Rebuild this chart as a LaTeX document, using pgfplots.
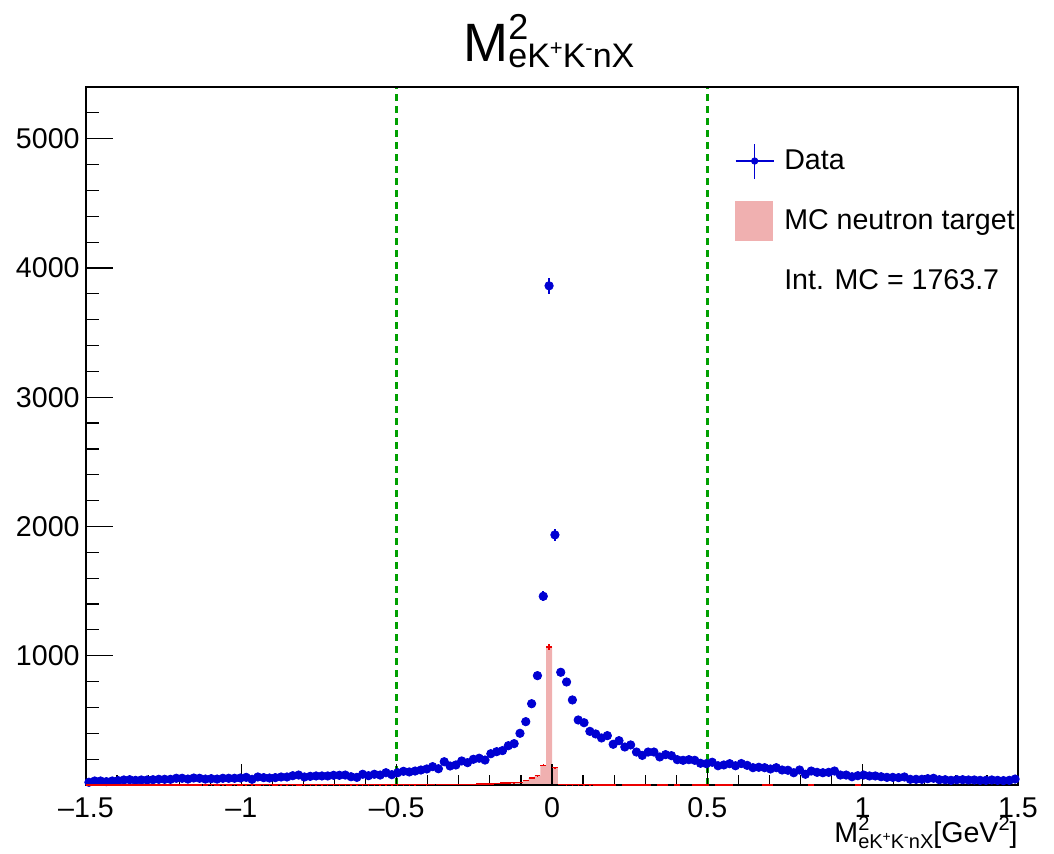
\documentclass[border=0pt]{standalone}
\usepackage{fontspec}
\setmainfont{Liberation Sans}
\usepackage{pgfplots}
\usepackage{pgfplotstable}
\pgfplotsset{compat=1.18}
\definecolor{datablue}{RGB}{0,0,210}
\definecolor{mcpink}{RGB}{240,176,176}
\definecolor{mcred}{RGB}{235,0,0}
\definecolor{cutgreen}{RGB}{0,160,0}
\newcommand{\fs}[1]{\fontsize{#1}{#1}\selectfont}
\pgfplotstableread{
x d de m me
-1.4906 21 5 1 1
-1.4719 31 6 1 1
-1.4531 31 6 1 1
-1.4344 26 5 1 1
-1.4156 31 6 1 1
-1.3969 34 6 1 1
-1.3781 39 6 1 1
-1.3594 41 6 1 1
-1.3406 36 6 1 1
-1.3219 39 6 1 1
-1.3031 39 6 1 1
-1.2844 41 6 1 1
-1.2656 44 7 1 1
-1.2469 44 7 1 1
-1.2281 44 7 1 1
-1.2094 52 7 1 1
-1.1906 52 7 1 1
-1.1719 46 7 1 1
-1.1531 54 7 1 1
-1.1344 52 7 1 1
-1.1156 46 7 1 1
-1.0969 49 7 2 1
-1.0781 46 7 1 1
-1.0594 52 7 2 1
-1.0406 52 7 1 1
-1.0219 52 7 2 1
-1.0031 54 7 1 1
-0.9844 59 8 2 1
-0.9656 44 7 2 1
-0.9469 62 8 1 1
-0.9281 57 8 2 1
-0.9094 54 7 2 1
-0.8906 57 8 1 1
-0.8719 62 8 2 1
-0.8531 62 8 2 1
-0.8344 72 8 2 1
-0.8156 77 9 1 1
-0.7969 62 8 2 1
-0.7781 67 8 2 1
-0.7594 70 8 2 1
-0.7406 70 8 2 1
-0.7219 70 8 2 1
-0.7031 75 9 3 1
-0.6844 75 9 2 1
-0.6656 77 9 3 1
-0.6469 64 8 2 1
-0.6281 59 8 3 1
-0.6094 83 9 3 1
-0.5906 72 8 2 1
-0.5719 83 9 3 1
-0.5531 77 9 3 1
-0.5344 95 10 3 1
-0.5156 80 9 2 1
-0.4969 95 10 3 1
-0.4781 106 10 3 1
-0.4594 101 10 3 1
-0.4406 108 10 3 1
-0.4219 116 11 4 1
-0.4031 124 11 3 1
-0.3844 142 12 4 1
-0.3656 126 11 4 1
-0.3469 180 13 4 1
-0.3281 147 12 5 1
-0.3094 155 12 5 1
-0.2906 186 14 6 1
-0.2719 173 13 5 1
-0.2531 199 14 6 1
-0.2344 207 14 8 2
-0.2156 193 14 8 2
-0.1969 242 16 9 2
-0.1781 258 16 12 2
-0.1594 266 16 14 2
-0.1406 304 17 17 3
-0.1219 320 18 19 3
-0.1031 400 20 20 3
-0.0844 490 22 36 4
-0.0656 629 25 55 5
-0.0469 846 29 73 6
-0.0281 1460 38 153 9
-0.0094 3862 62 1068 26
0.0094 1935 44 134 8
0.0281 872 30 4 1
0.0469 797 28 3 1
0.0656 658 26 2 1
0.0844 503 22 2 1
0.1031 482 22 2 1
0.1219 415 20 2 1
0.1406 395 20 1 1
0.1594 364 19 1 1
0.1781 382 20 1 1
0.1969 315 18 1 1
0.2156 343 19 0 0
0.2344 294 17 1 1
0.2531 310 18 1 1
0.2719 255 16 1 1
0.2906 229 15 1 1
0.3094 255 16 1 1
0.3281 255 16 0 0
0.3469 217 15 1 1
0.3656 235 15 1 1
0.3844 227 15 0 0
0.4031 196 14 1 1
0.4219 191 14 0 0
0.4406 196 14 0 0
0.4594 191 14 1 1
0.4781 168 13 1 1
0.4969 165 13 1 1
0.5156 176 13 0 0
0.5344 149 12 1 1
0.5531 155 12 1 1
0.5719 165 13 1 1
0.5906 149 12 0 0
0.6094 166 13 0 0
0.6281 152 12 0 0
0.6469 134 12 0 0
0.6656 137 12 0 0
0.6844 134 12 1 1
0.7031 124 11 1 1
0.7219 134 12 0 0
0.7406 116 11 0 0
0.7594 114 11 0 0
0.7781 95 10 0 0
0.7969 116 11 0 0
0.8156 83 9 0 0
0.8344 108 10 1 1
0.8531 98 10 0 0
0.8719 95 10 0 0
0.8906 98 10 0 0
0.9094 108 10 0 0
0.9281 77 9 0 0
0.9469 77 9 0 0
0.9656 64 8 0 0
0.9844 72 8 1 1
1.0031 77 9 0 0
1.0219 70 8 0 0
1.0406 70 8 0 0
1.0594 64 8 0 0
1.0781 59 8 0 0
1.0969 59 8 0 0
1.1156 57 8 0 0
1.1344 62 8 0 0
1.1531 44 7 0 0
1.1719 44 7 0 0
1.1906 44 7 0 0
1.2094 49 7 0 0
1.2281 52 7 0 0
1.2469 41 6 0 0
1.2656 41 6 0 0
1.2844 36 6 0 0
1.3031 41 6 0 0
1.3219 41 6 0 0
1.3406 39 6 0 0
1.3594 39 6 0 0
1.3781 36 6 0 0
1.3969 36 6 0 0
1.4156 39 6 0 0
1.4344 36 6 0 0
1.4531 34 6 0 0
1.4719 36 6 0 0
1.4906 46 7 0 0
}\histtab
\begin{document}
\begin{tikzpicture}
\begin{axis}[
  at={(0,0)}, anchor=south west,
  scale only axis, width=466bp, height=349bp,
  xmin=-1.5, xmax=1.5, ymin=0, ymax=5400,
  axis on top,
  xtick={-1.5,-1,-0.5,0,0.5,1,1.5},
  xticklabels={–1.5,–1,–0.5,0,0.5,1,1.5},
  minor x tick num=4,
  ytick=\empty,
  tick pos=left, tick align=inside,
  major tick length=10.5bp, minor tick length=5bp,
  tick style={black, line width=0.6bp},
  axis line style={line width=0.8bp},
  /pgf/number format/assume math mode=true,
  xticklabel style={font=\fs{14.3bp}, inner sep=0pt, anchor=north, yshift=-6bp},
  xlabel={\fs{14.3bp}M\makebox[0pt][l]{\raisebox{6bp}{\fs{10bp}2}}\raisebox{-3bp}{\fs{10bp}eK\raisebox{3.5bp}{\fs{7bp}+}K\raisebox{3.5bp}{\fs{7bp}-}nX}[GeV\raisebox{6bp}{\fs{10bp}2}]},
  xlabel style={at={(rel axis cs:1,0)}, anchor=base east, inner sep=0pt, yshift=-28.5bp},
  legend style={at={(0.6964,0.9226)}, anchor=north west, draw=none, fill=none,
    inner sep=0pt, outer sep=0pt, font=\fs{14.3bp}, row sep=10bp, column sep=5bp,
    nodes={inner sep=0pt}},
  legend cell align=left,
]
\addplot[draw=none, fill=mcpink, const plot mark mid, forget plot]
  table[x=x, y=m]{\histtab} \closedcycle;
\addplot[datablue, only marks, mark=*, mark size=2.1bp, forget plot,
  error bars/.cd, y dir=both, y explicit,
  error bar style={datablue, line width=0.8bp}, error mark=none]
  table[x=x, y=d, y error=de]{\histtab};
\addplot[cutgreen, line width=1.5bp, dash pattern=on 3.5bp off 2.5bp, forget plot]
  coordinates {(-0.5,0) (-0.5,5400)};
\addplot[cutgreen, line width=1.5bp, dash pattern=on 3.5bp off 2.5bp, forget plot]
  coordinates {(0.5,0) (0.5,5400)};
\addlegendimage{legend image code/.code={
  \draw[datablue, line width=0.6bp] (0bp,0bp) -- (19bp,0bp);
  \draw[datablue, line width=0.6bp] (9.5bp,-8.75bp) -- (9.5bp,8.75bp);
  \fill[datablue] (9.5bp,0bp) circle (1.6bp);
  \path[draw=none, fill=none] (0bp,-10bp) rectangle (19bp,10bp);}}
\addlegendentry{Data}
\addlegendimage{legend image code/.code={
  \fill[mcpink] (0bp,-9.75bp) rectangle (18.5bp,9.75bp);
  \path[draw=none, fill=none] (0bp,-10bp) rectangle (19bp,10bp);}}
\addlegendentry{MC neutron target}
\addlegendimage{legend image code/.code={\path[draw=none, fill=none] (0bp,-10bp) rectangle (19bp,10bp);}}
\addlegendentry{Int. MC = 1763.7}
\end{axis}
\begin{axis}[
  at={(0,0)}, anchor=south west,
  scale only axis, width=466bp, height=349bp,
  xmin=-1.5, xmax=1.5, ymin=0, ymax=5400,
  axis line style={draw=none},
  xtick=\empty,
  ytick={1000,2000,3000,4000,5000},
  yticklabels={1000,2000,3000,4000,5000},
  minor ytick={200,400,600,800,1200,1400,1600,1800,2200,2400,2600,2800,3200,3400,3600,3800,4200,4400,4600,4800,5200,5400},
  tick pos=left, tick align=inside,
  major tick length=13.5bp, minor tick length=6.7bp,
  tick style={black, line width=0.6bp},
  /pgf/number format/assume math mode=true,
  yticklabel style={font=\fs{14.3bp}, inner sep=0pt, anchor=east, xshift=-3bp},
  clip=false,
]
\addplot[draw=none, mark=none, forget plot, restrict y to domain=0.5:100000,
  error bars/.cd, x dir=both, x fixed=0.009375, y dir=both, y explicit,
  error bar style={draw=mcred, line width=0.7bp}, error mark=none]
  table[x=x, y=m, y error=me]{\histtab};
\end{axis}
\node[anchor=base west, inner sep=0pt] at (188.5bp,361.5bp)
  {\fs{27bp}M\makebox[0pt][l]{\raisebox{11bp}{\fs{18bp}2}}\raisebox{-3bp}{\fs{17bp}eK\raisebox{6bp}{\fs{11bp}+}K\raisebox{6bp}{\fs{11bp}-}nX}};
\pgfresetboundingbox
\path[use as bounding box] (-43bp,-34.5bp) rectangle (484bp,392.5bp);
\end{tikzpicture}
\end{document}
